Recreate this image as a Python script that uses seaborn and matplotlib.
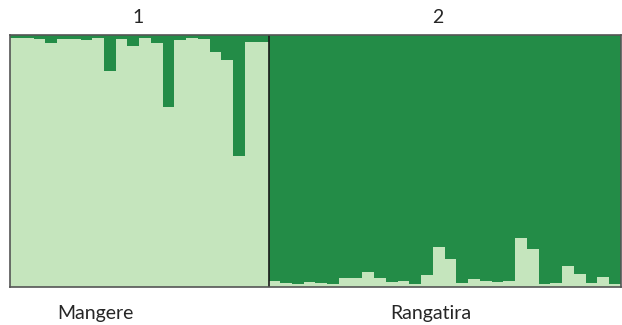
import numpy as np
import pandas as pd
import matplotlib
matplotlib.use("Agg")
import matplotlib.pyplot as plt
import seaborn as sns

# membership in cluster 2 (dark) for Mangere birds
mangere_dark = [0.012, 0.012, 0.015, 0.032, 0.015, 0.015, 0.02, 0.012, 0.144, 0.016, 0.044,
                0.012, 0.032, 0.284, 0.02, 0.012, 0.016, 0.068, 0.1, 0.48, 0.028, 0.028]
# membership in cluster 1 (light) for Rangatira birds
rangatira_light = [0.024, 0.015, 0.012, 0.021, 0.016, 0.013, 0.035, 0.035, 0.061, 0.035,
                   0.021, 0.024, 0.01, 0.048, 0.159, 0.111, 0.016, 0.03, 0.024, 0.021,
                   0.024, 0.195, 0.151, 0.012, 0.015, 0.084, 0.052, 0.017, 0.041, 0.01]
pop_names = ["Mangere", "Rangatira"]
cluster_labels = ["1", "2"]

light = [1 - v for v in mangere_dark] + rangatira_light
df = pd.DataFrame({
    "ind": np.arange(len(light)),
    "q1": light,
    "q2": [1.0] * len(light),
})
n_left = len(mangere_dark)
n = len(df)

light_col = "#c5e5bd"
dark_col = "#238c47"

sns.set_style("white")
plt.rcParams["font.family"] = ["Lato", "DejaVu Sans"]

fig = plt.figure(figsize=(6.22, 3.25), dpi=100)
ax = fig.add_axes([10 / 622, 38 / 325, 611 / 622, 252 / 325])

sns.barplot(data=df, x="ind", y="q2", color=dark_col, width=1.0, linewidth=0,
            saturation=1, ax=ax)
sns.barplot(data=df, x="ind", y="q1", color=light_col, width=1.0, linewidth=0,
            saturation=1, ax=ax)

ax.set_xlim(-0.5, n - 0.5)
ax.set_ylim(0, 1)
ax.axvline(n_left - 0.5, color="#1a1a1a", lw=1.2)
ax.set_xticks([])
ax.set_yticks([])
ax.set_xlabel("")
ax.set_ylabel("")
for s in ax.spines.values():
    s.set_visible(True)
    s.set_color("#555555")
    s.set_linewidth(1.2)

# cluster numbers on top, population names below
ax.text(10.4, 1.07, cluster_labels[0], ha="center", va="center", fontsize=14,
        transform=ax.transData, clip_on=False)
ax.text(35.9, 1.07, cluster_labels[1], ha="center", va="center", fontsize=14,
        transform=ax.transData, clip_on=False)
ax.text(6.8, -0.105, pop_names[0], ha="center", va="center", fontsize=14,
        transform=ax.transData, clip_on=False)
ax.text(35.3, -0.105, pop_names[1], ha="center", va="center", fontsize=14,
        transform=ax.transData, clip_on=False)

fig.savefig("out.png", dpi=100)
